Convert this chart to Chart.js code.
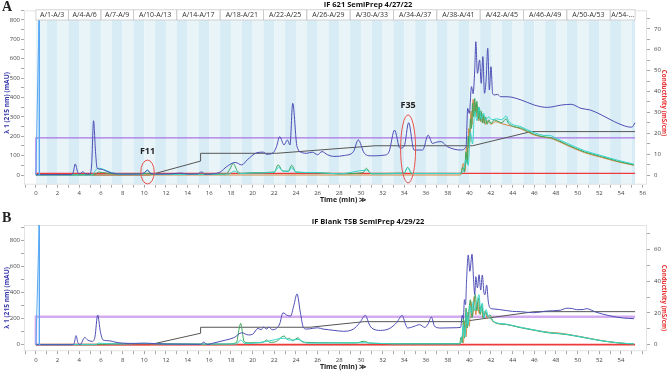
<!DOCTYPE html>
<html>
<head>
<meta charset="utf-8">
<script src="https://cdn.jsdelivr.net/npm/chart.js@4"></script>
<style>
  html, body { margin: 0; padding: 0; background: #fff; width: 669px; height: 371px; overflow: hidden; }
  .panel { position: absolute; left: 0; width: 669px; }
  #wrapA { top: 0; height: 206px; }
  #wrapB { top: 206px; height: 165px; }
  .tag { position: absolute; left: 2px; font: bold 14px "Liberation Serif", serif; line-height: 14px; color: #222; }
</style>
</head>
<body>
<div class="panel" id="wrapA"><canvas id="chartA"></canvas></div>
<div class="panel" id="wrapB"><canvas id="chartB"></canvas></div>
<div class="tag" style="top:0px">A</div>
<div class="tag" style="top:211px">B</div>
<script>
// ---------- panel A : IF 621 SemiPrep 4/27/22 (time min, mAU) ----------
const uvA = [[0,0],[0.2,2],[3.3,2],[3.45,15],[3.63,57],[3.85,15],[4.05,5],[4.3,17],[4.6,6],[5.0,5],[5.15,60],[5.32,280],[5.5,120],[5.65,35],[6.0,30],[6.5,20],[7.0,10],[8.0,5],[9.5,5],[10.0,12],[10.3,26],[10.6,8],[11.5,5],[12.5,6],[13.4,10],[14.0,5],[14.9,6],[15.3,16],[15.6,4],[16.3,6],[17.0,15],[17.6,43],[18.4,65],[19.0,52],[19.5,78],[20.4,115],[21.0,118],[21.3,107],[21.9,115],[22.2,146],[22.5,198],[22.9,155],[23.2,181],[23.45,155],[23.7,370],[24.1,146],[24.6,115],[25.0,112],[25.5,118],[26.0,105],[26.4,121],[26.9,105],[27.5,96],[28.5,101],[29.3,120],[29.75,181],[30.3,113],[30.9,99],[32.2,103],[32.6,121],[33.1,232],[33.6,138],[34.0,150],[34.4,270],[34.9,129],[35.7,129],[36.2,206],[36.6,163],[37.0,170],[37.4,172],[38.0,146],[39.2,129],[39.7,146],[39.85,344],[40.0,318],[40.2,456],[40.35,420],[40.5,542],[40.6,688],[40.75,525],[40.95,594],[41.1,473],[41.25,611],[41.4,422],[41.55,490],[41.7,654],[41.85,439],[42.0,559],[42.15,422],[42.3,413],[42.6,416],[42.9,404],[43.5,404],[44.8,387],[46.0,361],[47.2,349],[48.5,361],[49.4,365],[50.3,344],[51.2,335],[52.2,310],[53.4,275],[54.6,249],[55.0,247],[55.3,270]];
const cyanA = [[0,0],[5.2,0],[5.5,25],[5.8,35],[6.3,28],[7.0,12],[8.0,4],[9.8,3],[10.3,22],[10.7,5],[12,3],[17.8,5],[18.3,20],[18.8,8],[20,10],[22.0,15],[22.4,40],[22.8,20],[23.3,18],[23.6,38],[24.0,15],[26,12],[28,6],[30.5,25],[31,6],[34.0,10],[34.3,38],[34.7,8],[39.2,8],[39.5,30],[39.7,80],[39.9,50],[40.1,220],[40.3,160],[40.5,330],[40.7,280],[40.9,350],[41.1,290],[41.3,320],[41.5,285],[41.8,300],[42.1,285],[42.5,290],[43.0,285],[43.4,305],[43.6,280],[44.8,248],[46.0,218],[47.0,204],[47.5,203],[48.0,190],[49.1,162],[50.6,126],[52.2,100],[53.7,76],[55.2,56]];
const greenA = [[0,2],[5.4,2],[5.8,15],[6.5,10],[8,3],[10.3,8],[11,3],[17.5,4],[17.9,30],[18.2,60],[18.6,20],[19.0,8],[20,12],[22.0,15],[22.35,52],[22.8,20],[23.3,20],[23.6,50],[24.0,15],[26,12],[28,6],[30.2,12],[30.5,35],[30.9,8],[34.0,10],[34.3,40],[34.7,8],[39.2,8],[39.4,40],[39.55,15],[39.7,120],[39.8,60],[39.9,200],[40.0,140],[40.1,290],[40.2,240],[40.3,370],[40.4,300],[40.5,395],[40.6,320],[40.7,380],[40.8,290],[40.9,350],[41.0,280],[41.1,330],[41.2,270],[41.3,310],[41.4,265],[41.5,300],[41.65,262],[41.8,285],[42.0,265],[42.3,284],[43.0,270],[43.4,290],[43.6,268],[44.8,241],[46.0,210],[47.0,196],[47.5,193],[48.0,183],[49.1,155],[50.6,120],[52.2,95],[53.7,71],[55.2,52]];
const orangeA = [[0,0],[39.2,0],[39.45,60],[39.6,20],[39.75,150],[39.85,80],[39.95,240],[40.05,170],[40.15,330],[40.25,260],[40.35,390],[40.45,310],[40.55,370],[40.65,300],[40.75,360],[40.85,280],[40.95,340],[41.05,275],[41.15,320],[41.25,268],[41.35,300],[41.5,260],[41.7,280],[42.0,262],[42.4,275],[43.0,265],[44.8,237],[46.0,206],[47.5,189],[48.0,179],[49.1,151],[50.6,116],[52.2,91],[53.7,68],[55.2,50]];
const gradA = [[0,0],[10.5,0],[15.2,72],[15.2,112],[22.2,112],[31.3,151],[40.3,151],[45.7,224],[55.3,224]];
const flowA = [[0,0],[0,192],[55.3,192]];
const condA = [[0,0.8],[55.3,0.8]];            // mS/cm, right axis
const spikeA = [[0,0],[0.28,800],[0.3,1000],[0.32,0],[0.4,0]];

const fractionLabels = ['A/1-A/3','A/4-A/6','A/7-A/9','A/10-A/13','A/14-A/17','A/18-A/21','A/22-A/25','A/26-A/29','A/30-A/33','A/34-A/37','A/38-A/41','A/42-A/45','A/46-A/49','A/50-A/53','A/54-...'];
const fractionEdges = [0,3,6,9,13,17,21,25,29,33,37,41,45,49,53,55.3];
const peakMarks = [
  { label: 'F11', t: 10.3, text: 121, lo: -46, hi: 77 },
  { label: 'F35', t: 34.35, text: 361, lo: -41, hi: 310 }
];

// ---------- panel B : IF Blank TSB SemiPrep 4/29/22 ----------
const uvB = [[0,0],[3.4,0],[3.55,15],[3.7,70],[3.9,10],[4.1,3],[4.5,55],[4.8,35],[5.2,25],[5.45,60],[5.7,228],[5.95,100],[6.2,36],[6.8,30],[7.3,20],[8,12],[9,10],[10,12],[11,8],[12,5],[14,4],[15.2,3],[15.5,20],[15.8,2],[16.5,15],[17.5,35],[18.3,55],[19.0,92],[19.6,75],[20.0,80],[20.5,125],[20.8,115],[21.0,135],[21.3,120],[21.5,135],[21.8,115],[22.2,125],[22.5,160],[22.8,245],[23.2,225],[23.5,220],[23.8,300],[24.1,390],[24.4,250],[24.7,130],[25.0,120],[25.5,125],[26,130],[26.5,120],[27,115],[27.5,110],[28.4,103],[29.3,120],[29.9,170],[30.4,225],[30.8,150],[31.0,128],[31.8,110],[32.6,123],[33.3,170],[33.8,225],[34.1,160],[34.3,128],[34.9,141],[35.4,154],[35.9,133],[36.2,160],[36.5,213],[36.8,141],[37.4,128],[38.5,130],[39.2,133],[39.35,228],[39.45,200],[39.55,346],[39.65,308],[39.75,500],[39.9,690],[40.05,564],[40.25,695],[40.4,487],[40.5,384],[40.6,523],[40.75,436],[40.9,538],[41.05,420],[41.2,536],[41.35,400],[41.45,384],[41.6,459],[41.75,333],[41.85,292],[41.95,280],[42.2,275],[42.8,270],[44.0,256],[44.7,254],[45.9,246],[47.2,259],[48.4,265],[49.0,280],[49.5,278],[49.9,269],[50.5,270],[50.8,277],[51.7,250],[52.9,223],[54.2,205],[55.2,200]];
const cyanB = [[0,0],[5.5,0],[5.8,12],[6.5,8],[8,5],[10,10],[12,5],[18.5,5],[18.9,36],[19.3,8],[21.3,25],[22.9,50],[23.4,35],[24.2,40],[25,12],[30.3,15],[33,6],[39.1,6],[39.3,40],[39.45,150],[39.6,60],[39.75,250],[39.9,150],[40.05,300],[40.2,240],[40.35,330],[40.5,260],[40.7,330],[40.9,385],[41.05,250],[41.2,320],[41.35,210],[41.55,270],[41.75,215],[42.0,200],[42.3,175],[43.5,157],[44.6,136],[45.9,115],[47.4,93],[48.3,86],[49.1,78],[50.6,56],[52.2,31],[53.7,15],[55.2,6]];
const greenB = [[0,2],[6,3],[8,8],[10,8],[12,6],[15,4],[17.5,5],[18.5,15],[18.75,120],[18.9,164],[19.05,100],[19.2,25],[19.6,15],[20.5,15],[21.0,20],[21.3,36],[21.6,18],[22.2,25],[22.7,60],[22.9,67],[23.2,45],[23.4,49],[23.7,30],[24.0,45],[24.2,53],[24.5,25],[25,18],[27,15],[29.5,13],[30.3,26],[30.8,12],[33,8],[39.1,8],[39.25,60],[39.35,15],[39.45,205],[39.55,51],[39.7,282],[39.8,128],[39.95,256],[40.1,346],[40.25,205],[40.4,308],[40.55,385],[40.7,260],[40.85,360],[41.0,231],[41.15,308],[41.3,200],[41.5,256],[41.7,218],[41.9,230],[42.2,179],[43.5,154],[44.6,133],[45.9,112],[47.4,90],[48.3,84],[49.1,76],[50.6,54],[52.2,30],[53.7,14],[55.2,5]];
const orangeB = [[0,0],[39.1,0],[39.3,30],[39.45,15],[39.6,180],[39.7,60],[39.85,250],[40.0,140],[40.15,330],[40.3,220],[40.45,370],[40.6,230],[40.75,330],[40.9,240],[41.1,300],[41.25,210],[41.45,260],[41.65,200],[41.85,215],[42.1,185],[42.5,165],[43.5,155],[44.6,135],[45.9,114],[47.4,95],[48.3,90],[49.1,80],[50.6,57],[52.2,32],[53.7,15],[55.2,4]];
const gradB = [[0,0],[10.5,0],[15.2,88],[15.2,134],[25.3,134],[30.3,177],[39.3,177],[46,254],[55.3,254]];
const flowB = [[0,0],[0,215],[55.3,215]];
const condB = [[0,0],[55.3,0]];
const spikeB = [[0,0],[0.28,850],[0.3,1000],[0.32,0],[0.4,0]];

const FONT = '"Open Sans", "Noto Sans", sans-serif';
const toXY = arr => arr.map(([x, y]) => ({ x, y }));
const ticksFrom = (a, b, step) => { const t = []; for (let v = a; v <= b + 1e-9; v += step) t.push({ value: v }); return t; };

function trace(data, color, width, axis, smooth) {
  return {
    data: toXY(data), borderColor: color, borderWidth: width, yAxisID: axis || 'y',
    pointRadius: 0, fill: false,
    tension: smooth === false ? 0 : 0.3,
    cubicInterpolationMode: smooth === false ? 'default' : 'monotone'
  };
}

function rotatedText(ctx, text, x, y, angle, color, size) {
  ctx.save();
  ctx.translate(x, y);
  ctx.rotate(angle);
  ctx.font = 'bold ' + size + 'px ' + FONT;
  ctx.fillStyle = color;
  ctx.textAlign = 'center';
  ctx.textBaseline = 'middle';
  ctx.fillText(text, 0, 0);
  ctx.restore();
}

const panelDecor = {
  id: 'panelDecor',
  beforeDatasetsDraw(chart, args, o) {
    const { ctx, chartArea: a, scales: { x, y } } = chart;
    ctx.save();
    if (o.stripes) {
      const top = y.getPixelForValue(800);
      const end = fractionEdges[fractionEdges.length - 1];
      for (let i = 0; i < end; i++) {
        const x0 = x.getPixelForValue(i), x1 = x.getPixelForValue(Math.min(i + 1, end));
        ctx.fillStyle = i % 2 ? '#d8ecf5' : '#e9f4f9';
        ctx.fillRect(x0, top, x1 - x0, a.bottom - top);
      }
    }
    ctx.strokeStyle = '#e3e3e3';
    ctx.lineWidth = 1;
    ctx.strokeRect(a.left + 0.5, a.top + 0.5, a.width - 1, a.height - 1);
    ctx.restore();
  },
  afterDatasetsDraw(chart, args, o) {
    const { ctx, scales: { x, y } } = chart;
    ctx.save();
    if (o.header) {
      const top = y.getPixelForValue(850) - 1, bot = y.getPixelForValue(800);
      ctx.fillStyle = '#fff';
      ctx.fillRect(x.getPixelForValue(0), top, x.getPixelForValue(55.3) - x.getPixelForValue(0), bot - top);
      ctx.strokeStyle = '#c9c9c9';
      ctx.lineWidth = 0.8;
      ctx.font = '7px ' + FONT;
      ctx.textAlign = 'center';
      ctx.textBaseline = 'middle';
      fractionLabels.forEach((lab, i) => {
        const x0 = x.getPixelForValue(fractionEdges[i]), x1 = x.getPixelForValue(fractionEdges[i + 1]);
        ctx.strokeRect(x0, top + 0.5, x1 - x0, bot - top - 0.5);
        ctx.fillStyle = '#333';
        ctx.fillText(lab, (x0 + x1) / 2, (top + bot) / 2 + 0.5);
      });
    }
    (o.marks || []).forEach(m => {
      const cx = x.getPixelForValue(m.t);
      const y0 = y.getPixelForValue(m.hi), y1 = y.getPixelForValue(m.lo);
      ctx.beginPath();
      ctx.ellipse(cx, (y0 + y1) / 2, m.label === 'F11' ? 6.7 : 7.5, (y1 - y0) / 2, 0, 0, Math.PI * 2);
      ctx.strokeStyle = '#e8524f';
      ctx.lineWidth = 1;
      ctx.stroke();
      ctx.font = 'bold 9px ' + FONT;
      ctx.fillStyle = '#222';
      ctx.textAlign = 'center';
      ctx.textBaseline = 'middle';
      ctx.fillText(m.label, cx, y.getPixelForValue(m.text));
    });
    ctx.restore();
  },
  afterDraw(chart, args, o) {
    const { ctx } = chart;
    ctx.save();
    ctx.font = 'bold 7.5px ' + FONT;
    ctx.fillStyle = '#111';
    ctx.textAlign = 'center';
    ctx.textBaseline = 'middle';
    ctx.fillText(o.title, 368, o.titleY);
    ctx.font = 'bold 7px ' + FONT;
    ctx.fillStyle = '#222';
    ctx.fillText('Time (min) ≫', 343, o.timeY);
    ctx.restore();
    rotatedText(ctx, 'λ 1 (215 nm) (mAU)', 7, o.axisTitleY, -Math.PI / 2, '#3a3aae', 6.6);
    rotatedText(ctx, 'Conductivity (mS/cm)', 664, o.axisTitleY, Math.PI / 2, '#e83030', 6.2);
  }
};

function makeChart(id, p) {
  const tickFont = { size: 6, family: FONT };
  const tickGrid = { drawOnChartArea: false, tickLength: 3, color: '#a8a8a8' };
  return new Chart(document.getElementById(id), {
    type: 'line',
    data: {
      datasets: [
        trace(p.spike, '#58a8f4', 1, 'y', false),
        trace(p.uv, '#4d4db5', 1),
        trace(p.cyan, '#33d6cb', 1),
        trace(p.green, '#3ba65a', 1),
        trace(p.cond, '#ee3a3a', p.condWidth, 'y1', false),
        trace(p.orange, '#d8853f', 1),
        trace(p.grad, '#555555', 1, 'y', false),
        trace(p.flow, p.flowColor, p.flowWidth, 'y', false)
      ]
    },
    options: {
      responsive: true,
      maintainAspectRatio: false,
      animation: false,
      layout: { padding: { top: p.top, left: 0, right: 0, bottom: 0 } },
      plugins: {
        legend: { display: false },
        tooltip: { enabled: false },
        panelDecor: { header: p.stripes, stripes: p.stripes, marks: p.marks, title: p.title, titleY: p.titleY, timeY: p.timeY, axisTitleY: p.axisTitleY }
      },
      scales: {
        x: {
          type: 'linear', min: -1.1, max: 56.4,
          afterFit: s => { s.height = p.xHeight; },
          afterBuildTicks: s => { s.ticks = ticksFrom(-1, 56, 1); },
          ticks: { autoSkip: false, maxRotation: 0, padding: 2, font: tickFont, color: '#444',
                   callback: v => (v >= 0 && v % 2 === 0 && v <= p.xLast) ? String(v) : '' },
          grid: tickGrid, border: { display: false }
        },
        y: {
          position: 'left', min: p.yMin, max: p.yMax,
          afterFit: s => { s.width = 24; },
          afterBuildTicks: s => { s.ticks = ticksFrom(0, p.yTop, p.yStep); },
          ticks: { autoSkip: false, padding: 1, font: tickFont, color: '#444',
                   callback: v => v % p.yLabelStep === 0 ? String(v) : '' },
          grid: tickGrid, border: { display: false }
        },
        y1: {
          position: 'right', min: p.rMin, max: p.rMax,
          afterFit: s => { s.width = 22; },
          afterBuildTicks: s => { s.ticks = ticksFrom(0, p.rTop, p.rStep); },
          ticks: { autoSkip: false, padding: 4, font: tickFont, color: '#444',
                   callback: v => v % p.rLabelStep === 0 ? String(v) : '' },
          grid: tickGrid, border: { display: false }
        }
      }
    },
    plugins: [panelDecor]
  });
}

makeChart('chartA', {
  uv: uvA, cyan: cyanA, green: greenA, orange: orangeA, grad: gradA, flow: flowA, cond: condA, spike: spikeA,
  flowColor: '#a974e6', flowWidth: 1.2, condWidth: 1.4,
  top: 10.3, xHeight: 21.3, xLast: 56,
  yMin: -50, yMax: 850, yTop: 850, yStep: 50, yLabelStep: 100,
  rMin: -4.64, rMax: 78.9, rTop: 75, rStep: 5, rLabelStep: 10,
  stripes: true, marks: peakMarks, title: 'IF 621 SemiPrep 4/27/22', titleY: 5,
  timeY: 199.5, axisTitleY: 103
});

makeChart('chartB', {
  uv: uvB, cyan: cyanB, green: greenB, orange: orangeB, grad: gradB, flow: flowB, cond: condB, spike: spikeB,
  flowColor: '#d3acef', flowWidth: 2.5, condWidth: 1.8,
  top: 19, xHeight: 19.8, xLast: 54,
  yMin: -50, yMax: 920, yTop: 900, yStep: 100, yLabelStep: 200,
  rMin: -4.1, rMax: 75.5, rTop: 70, rStep: 10, rLabelStep: 20,
  stripes: false, marks: [], title: 'IF Blank TSB SemiPrep 4/29/22', titleY: 16,
  timeY: 160.5, axisTitleY: 92
});
</script>
</body>
</html>
